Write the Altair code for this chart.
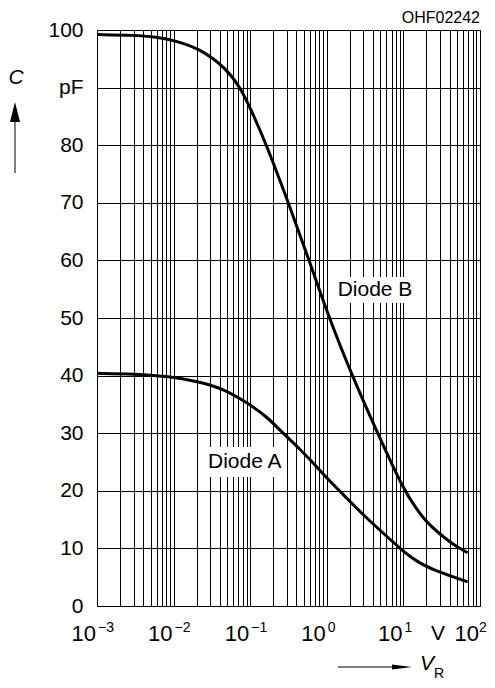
import altair as alt
import pandas as pd

# ---- data ----
diode_b_v = [0.001, 0.003, 0.006, 0.01, 0.022, 0.049, 0.074, 0.1, 0.164, 0.315, 0.59, 1.07, 2.14, 4.6, 10.2, 15.0, 20.0, 36.7, 49.6, 69]
diode_b_c = [99.2, 99.1, 98.8, 98.2, 96.8, 93.3, 90.0, 86.5, 80.0, 70.0, 60.0, 50.0, 40.0, 30.0, 20.0, 16.8, 14.5, 11.5, 10.3, 9.25]

diode_a_v = [0.001, 0.003, 0.0098, 0.02, 0.044, 0.091, 0.164, 0.245, 0.45, 0.667, 1.0, 2.0, 3.0, 5.2, 9.1, 14.9, 24.5, 69]
diode_a_c = [40.4, 40.3, 39.8, 39.0, 37.8, 35.3, 32.9, 30.5, 27.2, 24.8, 22.2, 18.2, 15.8, 12.9, 9.95, 7.7, 6.25, 4.2]

x_grid = [m * 10.0 ** e for e in range(-3, 2) for m in range(1, 10)] + [100.0]
y_ticks = [0, 10, 20, 30, 40, 50, 60, 70, 80, 90, 100]
decades = [0.001, 0.01, 0.1, 1.0, 10.0, 100.0]
exponents = ["\u22123", "\u22122", "\u22121", "0", "1", "2"]

labels = ["Diode B", "Diode A"]
label_v = [4.26, 0.085]
label_c = [54.9, 25.0]
box_v1 = [1.2, 0.0234]
box_v2 = [15.0, 0.30]
box_c1 = [52.6, 22.4]
box_c2 = [57.1, 27.6]

FONT = "Liberation Sans"
W, H = 383, 576

curves = pd.concat([
    pd.DataFrame({"V": diode_b_v, "C": diode_b_c, "s": "B"}),
    pd.DataFrame({"V": diode_a_v, "C": diode_a_c, "s": "A"}),
])
lab_df = pd.DataFrame({"t": labels, "V": label_v, "C": label_c,
                       "v1": box_v1, "v2": box_v2, "c1": box_c1, "c2": box_c2})
dec_df = pd.DataFrame({"V": decades, "e": exponents})
one = pd.DataFrame({"a": [0]})

xs = alt.Scale(type="log", domain=[0.001, 100], nice=False)
ys = alt.Scale(domain=[0, 100], nice=False)
x_axis = alt.Axis(values=x_grid, labels=False, ticks=False, tickSize=0, domain=False, grid=True,
                  gridColor="black", gridWidth=1, gridOpacity=1, title=None)
y_axis = alt.Axis(values=y_ticks, ticks=False, tickSize=0, domain=False, grid=True,
                  gridColor="black", gridWidth=1, gridOpacity=1,
                  labelFont=FONT, labelFontSize=21, labelColor="black", labelPadding=14,
                  title=None, labelExpr="datum.value == 90 ? 'pF' : datum.label")

base_lines = alt.Chart(curves).mark_line(color="black", strokeWidth=3, interpolate="basis").encode(
    x=alt.X("V:Q", scale=xs, axis=x_axis),
    y=alt.Y("C:Q", scale=ys, axis=y_axis),
    detail="s:N",
)

boxes = alt.Chart(lab_df).mark_rect(color="white").encode(
    x=alt.X("v1:Q", scale=xs, axis=x_axis), x2="v2:Q",
    y=alt.Y("c1:Q", scale=ys, axis=y_axis), y2="c2:Q",
)

label_text = alt.Chart(lab_df).mark_text(font=FONT, fontSize=21, color="black").encode(
    x=alt.X("V:Q", scale=xs, axis=x_axis),
    y=alt.Y("C:Q", scale=ys, axis=y_axis),
    text="t:N",
)

dec_ten = alt.Chart(dec_df).mark_text(font=FONT, fontSize=22, color="black", dx=-1, align="right",
                                      baseline="middle").encode(
    x=alt.X("V:Q", scale=xs, axis=x_axis), y=alt.value(H + 28), text=alt.value("10"),
)
dec_exp = alt.Chart(dec_df).transform_filter("datum.V < 50").mark_text(
    font=FONT, fontSize=14, color="black", dx=1, align="left", baseline="middle").encode(
    x=alt.X("V:Q", scale=xs, axis=x_axis), y=alt.value(H + 22), text="e:N",
)
dec_exp_last = alt.Chart(dec_df).transform_filter("datum.V > 50").mark_text(
    font=FONT, fontSize=14, color="black", dx=-1, align="left", baseline="middle").encode(
    x=alt.X("V:Q", scale=xs, axis=x_axis), y=alt.value(H + 22), text="e:N",
)


def txt(s, x, y, size=21, style="normal", align="center"):
    return alt.Chart(one).mark_text(font=FONT, fontSize=size, fontStyle=style, color="black",
                                    align=align, baseline="middle").encode(
        x=alt.value(x), y=alt.value(y), text=alt.value(s))


unit_v = txt("V", 341, H + 28)
code = txt("OHF02242", W, -12, size=16, align="right")
c_lab = txt("C", -81, 48, size=21, style="italic")
vr_v = txt("V", 330, 634, size=21, style="italic")
vr_r = txt("R", 342, 644, size=14)

up_line = alt.Chart(one).mark_rule(color="black", strokeWidth=1).encode(
    x=alt.value(-82), y=alt.value(143), y2=alt.value(85))
up_head = alt.Chart(one).mark_point(shape="M0,-1L-0.5,1L0.5,1Z", size=400, filled=True, color="black",
                                    opacity=1).encode(x=alt.value(-82), y=alt.value(82))
rt_line = alt.Chart(one).mark_rule(color="black", strokeWidth=1).encode(
    x=alt.value(241), x2=alt.value(300), y=alt.value(637))
rt_head = alt.Chart(one).mark_point(shape="M1,0L-1,-0.25L-1,0.25Z", size=400, filled=True, color="black",
                                    opacity=1).encode(x=alt.value(305), y=alt.value(637))

chart = alt.layer(
    base_lines, boxes, label_text, dec_ten, dec_exp, dec_exp_last, unit_v, code, c_lab, vr_v, vr_r,
    up_line, up_head, rt_line, rt_head,
).properties(
    width=W, height=H,
    background="white",
    autosize=alt.AutoSizeParams(type="none"),
    padding={"left": 89, "top": 22, "right": 7, "bottom": 74},
).configure_view(stroke="black", strokeWidth=1)

chart.save("out.html", embed_options={"renderer": "svg", "actions": False})
